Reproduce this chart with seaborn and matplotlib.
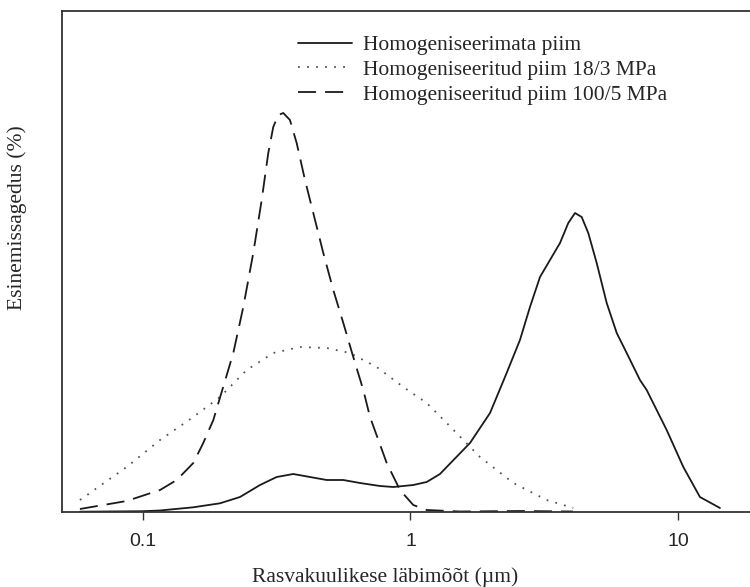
import numpy as np
import pandas as pd
import matplotlib
matplotlib.use("Agg")
import matplotlib.pyplot as plt
import seaborn as sns

# fat globule size distributions (diameter in µm, relative frequency, arbitrary units)
d_unhomog = [0.0581, 0.1000, 0.1158, 0.1542, 0.1940, 0.2305, 0.2738, 0.3161, 0.3646, 0.4209, 0.4861,
             0.5609, 0.6475, 0.7691, 0.8624, 1.024, 1.150, 1.289, 1.366, 1.669, 1.983, 2.100, 2.288,
             2.566, 2.797, 3.049, 3.323, 3.622, 3.890, 4.121, 4.365, 4.620, 4.967, 5.414, 5.902,
             6.431, 7.209, 7.638, 9.072, 10.47, 12.08, 14.35]
f_unhomog = [0.3, 0.8, 1.5, 4.7, 8.7, 15, 27, 35, 38, 35, 32,
             32, 29, 26, 25, 27, 30, 38, 45, 69, 99, 115, 139,
             172, 205, 235, 252, 269, 289, 299, 295, 279, 249, 209, 179,
             159, 132, 122, 82, 45, 15, 4]

d_18_3 = [0.0581, 0.0869, 0.1158, 0.1542, 0.1940, 0.2442, 0.3069, 0.3863, 0.4861, 0.5939,
          0.7472, 0.9399, 1.150, 1.366, 1.819, 2.423, 3.229, 4.061]
f_18_3 = [12, 45, 72, 95, 115, 142, 159, 165, 164, 159,
          145, 125, 109, 89, 55, 29, 12, 4]

d_100_5 = [0.0581, 0.0869, 0.1158, 0.1337, 0.1542, 0.1680, 0.1832, 0.2176, 0.2371, 0.2584, 0.2778,
           0.2940, 0.3069, 0.3204, 0.3345, 0.3543, 0.3754, 0.4033, 0.4331, 0.4721, 0.5145, 0.5609,
           0.6111, 0.6662, 0.7058, 0.8149, 0.9135, 1.024, 1.150, 1.531, 2.566, 4.05]
f_100_5 = [3, 11, 22, 32, 49, 69, 92, 159, 205, 259, 312,
           359, 385, 397, 399, 392, 369, 332, 299, 259, 222, 189,
           155, 122, 95, 49, 22, 7, 2, 0.5, 1, 0.5]

labels = ["Homogeniseerimata piim", "Homogeniseeritud piim 18/3 MPa", "Homogeniseeritud piim 100/5 MPa"]

df = pd.concat([
    pd.DataFrame({"d": d_unhomog, "f": f_unhomog, "sample": labels[0]}),
    pd.DataFrame({"d": d_18_3, "f": f_18_3, "sample": labels[1]}),
    pd.DataFrame({"d": d_100_5, "f": f_100_5, "sample": labels[2]}),
])

sns.set_style("white")
plt.rcParams["font.family"] = ["Liberation Serif", "DejaVu Serif"]

fig = plt.figure(figsize=(7.5, 5.87), dpi=100)
ax = fig.add_axes([62 / 750, 75 / 587, 708 / 750, 501 / 587])

sns.lineplot(data=df, x="d", y="f", hue="sample", style="sample",
             palette=["#1a1a1a", "#555555", "#1a1a1a"],
             dashes={labels[0]: "", labels[1]: (1, 4), labels[2]: (10, 5)},
             hue_order=labels, style_order=labels,
             estimator=None, linewidth=1.3, ax=ax)

ax.set_xscale("log")
ax.set_xlim(0.0498, 22.08)
ax.set_ylim(0, 501)
ax.set_xticks([0.1, 1, 10])
ax.set_xticklabels(["0.1", "1", "10"], fontfamily="Liberation Sans", fontsize=14)
ax.xaxis.set_minor_locator(matplotlib.ticker.NullLocator())
ax.set_yticks([])
ax.tick_params(axis="x", direction="out", length=6, width=1, color="#333333", bottom=True, pad=9)

for s in ax.spines.values():
    s.set_color("#333333")
    s.set_linewidth(1.3)

ax.set_xlabel("Rasvakuulikese läbimõõt (µm)", fontsize=15.5)
ax.xaxis.set_label_coords((385 - 62) / 708, -0.11)
ax.set_ylabel("Esinemissagedus (%)", fontsize=15.5)
ax.yaxis.set_label_coords(-0.05, 0.587)

leg = ax.legend(loc="upper left", bbox_to_anchor=((298 - 62) / 708, 0.952), frameon=False,
                fontsize=15.5, handlelength=2.5, handletextpad=0.5, labelspacing=0.22,
                borderaxespad=0, borderpad=0)
for line in leg.get_lines():
    line.set_linewidth(1.3)

fig.savefig("out.png", dpi=100)
